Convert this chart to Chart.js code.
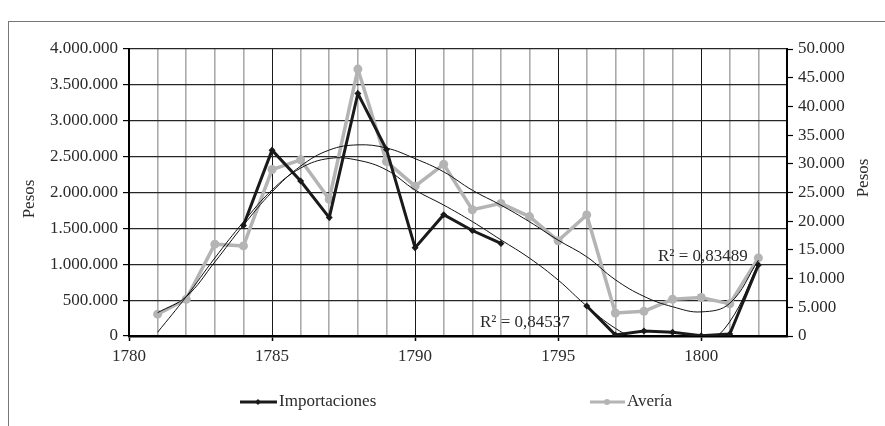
<!DOCTYPE html>
<html><head><meta charset="utf-8">
<script src="https://cdn.jsdelivr.net/npm/chart.js@4.4.1/dist/chart.umd.min.js"></script>
<style>html,body{margin:0;padding:0;background:#fff;overflow:hidden}#wrap{width:885px;height:426px;position:relative}</style>
</head><body><div id="wrap"><canvas id="c" width="885" height="426"></canvas></div>
<script>
const years = [1781,1782,1783,1784,1785,1786,1787,1788,1789,1790,1791,1792,1793,1794,1795,1796,1797,1798,1799,1800,1801,1802];
const importaciones = [null,null,null,1540000,2590000,2160000,1650000,3380000,2600000,1230000,1690000,1470000,1290000,null,null,418000,15000,70000,52000,5000,28000,990000];
const averia = [3800,6400,16000,15700,29000,30700,23800,46500,30400,26100,29900,22000,23100,20800,16600,21100,4000,4300,6400,6700,5600,13600];
const trendImportaciones = [52000,548000,1087000,1590000,2035000,2340000,2475000,2450000,2315000,2035000,1825000,1595000,1340000,1085000,780000,418000,107000,-90000,-200000,-150000,200000,1010000];
const trendAveria = [4060,6850,12900,19300,25100,29600,32400,33300,32750,30900,28600,25400,22800,19900,16700,13800,9800,6900,5100,4200,5700,13200];
const xTickLabels = [1780,1785,1790,1795,1800];
const r2Labels = ['R² = 0,84537','R² = 0,83489'];
const seriesNames = ['Importaciones','Avería'];
const axisTitle = 'Pesos';

const FONT = "'Liberation Serif', 'Times New Roman', serif";
const fmt = v => Math.round(v).toString().replace(/\B(?=(\d{3})+(?!\d))/g, '.');
const pts = arr => years.map((y,i)=>({x:y, y:arr[i]}));

const extras = {
  id:'extras',
  beforeDraw(chart){
    const ctx = chart.ctx;
    ctx.save();
    ctx.strokeStyle = '#777'; ctx.lineWidth = 1;
    ctx.strokeRect(8.5, 21.5, 900, 500);
    ctx.restore();
  },
  afterDatasetsDraw(chart){
    const ctx = chart.ctx;
    ctx.save();
    ctx.font = '17px ' + FONT;
    ctx.fillStyle = '#2a2a2a';
    ctx.textBaseline = 'middle';
    ctx.textAlign = 'left';
    ctx.fillText(r2Labels[0], 480, 323);
    ctx.fillText(r2Labels[1], 658, 257);
    ctx.restore();
  },
  afterDraw(chart){
    const ctx = chart.ctx;
    ctx.save();
    ctx.font = '17px ' + FONT;
    ctx.fillStyle = '#2a2a2a';
    ctx.textBaseline = 'middle';
    // axis titles
    ctx.textAlign = 'center';
    ctx.save(); ctx.translate(30, 199); ctx.rotate(-Math.PI/2); ctx.fillText(axisTitle, 0, 0); ctx.restore();
    ctx.save(); ctx.translate(864, 178); ctx.rotate(-Math.PI/2); ctx.fillText(axisTitle, 0, 0); ctx.restore();
    // legend
    const ly = 402;
    ctx.strokeStyle = '#1a1a1a'; ctx.lineWidth = 3;
    ctx.beginPath(); ctx.moveTo(240, ly); ctx.lineTo(277, ly); ctx.stroke();
    ctx.fillStyle = '#1a1a1a';
    ctx.beginPath(); ctx.moveTo(258, ly-3); ctx.lineTo(261, ly); ctx.lineTo(258, ly+3); ctx.lineTo(255, ly); ctx.closePath(); ctx.fill();
    ctx.strokeStyle = '#b4b4b4'; ctx.lineWidth = 3;
    ctx.beginPath(); ctx.moveTo(590, ly); ctx.lineTo(625, ly); ctx.stroke();
    ctx.fillStyle = '#b4b4b4';
    ctx.beginPath(); ctx.arc(607, ly, 3, 0, Math.PI*2); ctx.fill();
    ctx.fillStyle = '#2a2a2a'; ctx.textAlign = 'left';
    ctx.fillText(seriesNames[0], 279, ly);
    ctx.fillText(seriesNames[1], 627, ly);
    ctx.restore();
  }
};

new Chart(document.getElementById('c'), {
  type:'line',
  data:{
    datasets:[
      {label:'trend '+seriesNames[0], data:pts(trendImportaciones), yAxisID:'y', borderColor:'#111', borderWidth:1, pointRadius:0, tension:0.4, order:0},
      {label:'trend '+seriesNames[1], data:pts(trendAveria), yAxisID:'y1', borderColor:'#111', borderWidth:1, pointRadius:0, tension:0.4, order:0},
      {label:seriesNames[0], data:pts(importaciones), yAxisID:'y', borderColor:'#1a1a1a', borderWidth:3, pointStyle:'rectRot', pointRadius:3.5, pointBackgroundColor:'#1a1a1a', pointBorderColor:'#1a1a1a', pointBorderWidth:0, tension:0, spanGaps:false, order:1},
      {label:seriesNames[1], data:pts(averia), yAxisID:'y1', borderColor:'#b4b4b4', borderWidth:3.5, pointStyle:'circle', pointRadius:4.5, pointBackgroundColor:'#b4b4b4', pointBorderColor:'#b4b4b4', pointBorderWidth:0, tension:0, order:2}
    ]
  },
  options:{
    responsive:false, animation:false, devicePixelRatio:1,
    layout:{padding:{top:49,left:0,right:0,bottom:56}},
    plugins:{legend:{display:false}, tooltip:{enabled:false}},
    scales:{
      x:{
        type:'linear', min:1780, max:1803,
        afterFit(s){ s.height = 34; },
        ticks:{stepSize:1, autoSkip:false, maxRotation:0, minRotation:0, padding:5,
          color:'#2a2a2a', font:{family:FONT, size:17},
          callback:v => xTickLabels.includes(v) ? String(v) : ''},
        grid:{
          color:c => (c.tick && c.tick.value % 5 === 0) ? '#1a1a1a' : '#ababab',
          lineWidth:c => (c.tick && c.tick.value % 5 === 0) ? 1 : 1.6,
          tickColor:c => (c.tick && c.tick.value % 5 === 0 && c.tick.value < 1803) ? '#000' : 'rgba(0,0,0,0)',
          tickLength:5, tickWidth:1.5
        },
        border:{display:true, color:'#000', width:2.5}
      },
      y:{
        position:'left', min:0, max:4000000,
        afterFit(s){ s.width = 129; },
        ticks:{stepSize:500000, padding:5, color:'#2a2a2a', font:{family:FONT, size:17}, callback:v => fmt(v)},
        grid:{color:'#262626', lineWidth:1.2, tickColor:'#000', tickLength:6, tickWidth:1.2},
        border:{display:true, color:'#000', width:2}
      },
      y1:{
        position:'right', min:0, max:50000,
        afterFit(s){ s.width = 98; },
        ticks:{stepSize:5000, padding:5, color:'#2a2a2a', font:{family:FONT, size:17}, callback:v => fmt(v)},
        grid:{drawOnChartArea:false, tickColor:'#000', tickLength:6, tickWidth:1.2},
        border:{display:true, color:'#000', width:2}
      }
    }
  },
  plugins:[extras]
});
</script>
</body></html>
